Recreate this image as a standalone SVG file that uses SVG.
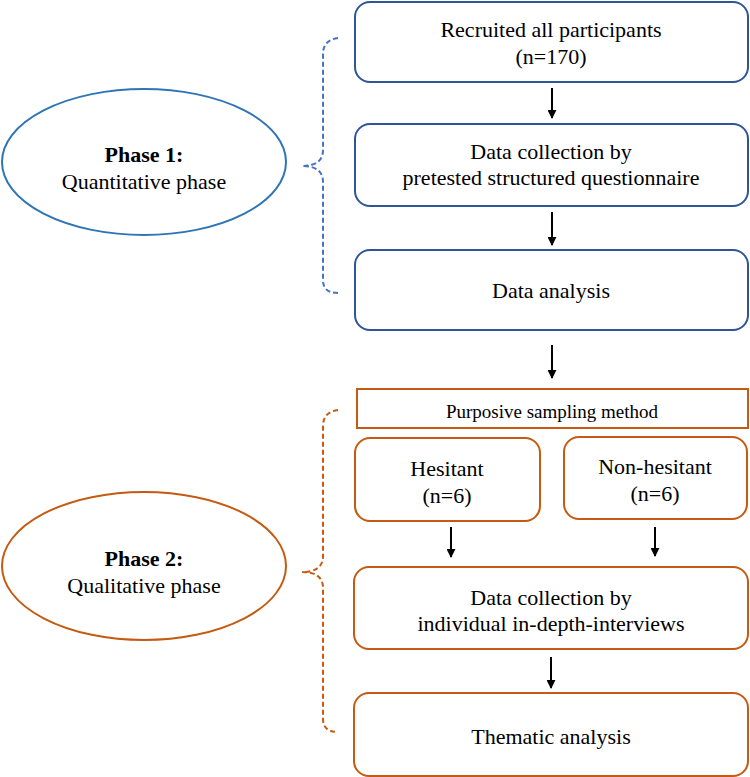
<svg xmlns="http://www.w3.org/2000/svg" width="750" height="777" viewBox="0 0 750 777">
<style>
text{font-family:'Liberation Serif','Times New Roman',Tinos,'DejaVu Serif',serif;font-size:22px;fill:#000;text-anchor:middle}
.b{fill:#fff;stroke:#2F5597;stroke-width:2}
.o{fill:#fff;stroke:#C55A11;stroke-width:2}
.c{stroke:#000;stroke-width:2;fill:none;marker-end:url(#ah)}
.bold{font-weight:bold}
</style>
<defs>
<marker id="ah" viewBox="0 0 10 10" refX="9" refY="5" markerWidth="4.5" markerHeight="4.5" orient="auto" markerUnits="strokeWidth">
<path d="M0,0 L10,5 L0,10 z" fill="#000"/>
</marker>
</defs>
<rect width="750" height="777" fill="#fff"/>
<g id="phase1">
<ellipse cx="144" cy="162" rx="142" ry="73" fill="#fff" stroke="#2E75B6" stroke-width="2"/>
<text x="144" y="162" class="bold">Phase 1:</text>
<text x="144" y="189">Quantitative phase</text>
</g>
<g id="phase2">
<ellipse cx="144" cy="566" rx="142" ry="74" fill="#fff" stroke="#C55A11" stroke-width="2"/>
<text x="144" y="566" class="bold">Phase 2:</text>
<text x="144" y="593">Qualitative phase</text>
</g>
<g id="brace1">
<path d="M338,38 Q323,40 323,54 L323,150 Q323,166 302,166 Q323,166 323,182 L323,280 Q323,293 338,293" fill="none" stroke="#4472C4" stroke-width="2" stroke-dasharray="5,3"/>
</g>
<g id="brace2">
<path d="M338,410 Q323,412 323,426 L323,556 Q323,572 302,572 Q323,572 323,588 L323,719 Q323,732 338,732" fill="none" stroke="#C55A11" stroke-width="2" stroke-dasharray="5,3"/>
</g>
<g id="recruited">
<rect class="b" x="355" y="2" width="393" height="80" rx="15"/>
<text x="551" y="37">Recruited all participants</text>
<text x="551" y="64">(n=170)</text>
</g>
<g id="collection1">
<rect class="b" x="355" y="124" width="393" height="82" rx="15"/>
<text x="551" y="159">Data collection by</text>
<text x="551" y="185">pretested structured questionnaire</text>
</g>
<g id="analysis1">
<rect class="b" x="355" y="250" width="393" height="80" rx="15"/>
<text x="551" y="298">Data analysis</text>
</g>
<g id="purposive">
<rect class="o" x="357" y="389" width="391" height="39"/>
<text x="552" y="418" style="font-size:19px">Purposive sampling method</text>
</g>
<g id="hesitant">
<rect class="o" x="355" y="438" width="185" height="83" rx="15"/>
<text x="447" y="476">Hesitant</text>
<text x="447" y="503">(n=6)</text>
</g>
<g id="nonhesitant">
<rect class="o" x="564" y="437" width="183" height="82" rx="15"/>
<text x="655" y="474">Non-hesitant</text>
<text x="655" y="501">(n=6)</text>
</g>
<g id="collection2">
<rect class="o" x="354" y="567" width="394" height="82" rx="15"/>
<text x="551" y="605">Data collection by</text>
<text x="551" y="631">individual in-depth-interviews</text>
</g>
<g id="thematic">
<rect class="o" x="354" y="693" width="394" height="83" rx="15"/>
<text x="551" y="744">Thematic analysis</text>
</g>
<g id="connectors">
<line class="c" x1="552" y1="88" x2="552" y2="118"/>
<line class="c" x1="552" y1="212" x2="552" y2="245"/>
<line class="c" x1="552" y1="345" x2="552" y2="378"/>
<line class="c" x1="451" y1="527" x2="451" y2="557"/>
<line class="c" x1="655" y1="527" x2="655" y2="556"/>
<line class="c" x1="551" y1="657" x2="551" y2="688"/>
</g>
</svg>
